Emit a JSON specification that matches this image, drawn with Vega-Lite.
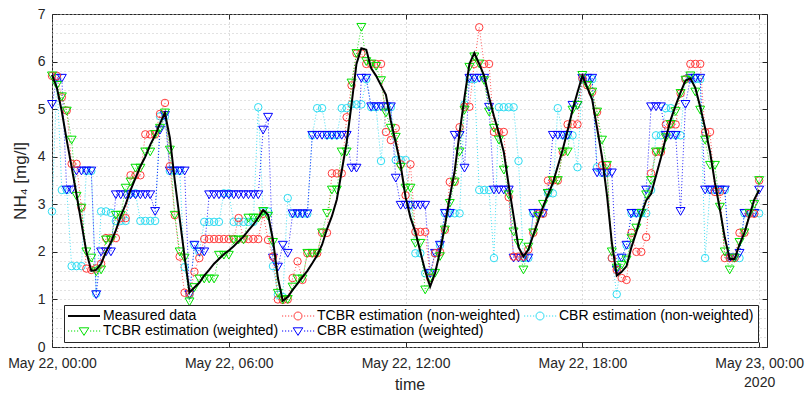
{
  "$schema": "https://vega.github.io/schema/vega-lite/v6.json",
  "width": 715,
  "height": 333,
  "autosize": {"type": "none"},
  "padding": {"left": 52, "top": 14, "right": 40, "bottom": 46},
  "background": "white",
  "config": {
    "font": "Liberation Sans",
    "view": {"stroke": "#262626", "strokeWidth": 1},
    "axis": {"labelFont": "Liberation Sans", "titleFont": "Liberation Sans", "labelColor": "#262626", "titleColor": "#262626", "tickColor": "#262626", "domainColor": "#262626"},
    "legend": {
      "orient": "none", "legendX": 12, "legendY": 291, "columns": 3, "columnPadding": 1, "rowPadding": 1, "padding": 4,
      "strokeColor": "#262626", "fillColor": "white", "labelFont": "Liberation Sans", "labelFontSize": 14, "labelColor": "black",
      "labelLimit": 0, "symbolSize": 64, "labelOffset": 21, "symbolStrokeWidth": 1, "symbolLimit": 0
    }
  },
  "resolve": {"axis": {"x": "independent", "y": "independent"}},
  "data": {"values": [
    {"t":"2020-05-22T00:00","m":5.72,"a":5.70,"b":5.70,"c":2.85,"d":5.10},
    {"t":"2020-05-22T00:10","m":5.45,"a":5.70,"b":5.50,"c":5.65,"d":5.65},
    {"t":"2020-05-22T00:20","m":4.95,"a":5.25,"b":5.26,"c":3.30,"d":5.65},
    {"t":"2020-05-22T00:30","m":4.35,"a":4.97,"b":4.96,"c":3.30,"d":3.30},
    {"t":"2020-05-22T00:40","m":3.78,"a":3.85,"b":4.35,"c":1.70,"d":3.30},
    {"t":"2020-05-22T00:50","m":3.20,"a":3.85,"b":3.17,"c":1.70,"d":3.70},
    {"t":"2020-05-22T01:00","m":2.60,"a":2.93,"b":2.92,"c":1.70,"d":3.70},
    {"t":"2020-05-22T01:10","m":2.00,"a":1.65,"b":2.00,"c":3.70,"d":3.70},
    {"t":"2020-05-22T01:20","m":1.60,"a":1.62,"b":1.87,"c":3.70,"d":3.70},
    {"t":"2020-05-22T01:30","m":1.62,"a":1.65,"b":1.58,"c":1.12,"d":1.10},
    {"t":"2020-05-22T01:40","m":1.75,"a":1.75,"b":1.62,"c":2.85,"d":2.00},
    {"t":"2020-05-22T01:50","m":2.00,"a":2.29,"b":2.25,"c":2.85,"d":2.00},
    {"t":"2020-05-22T02:00","m":2.20,"a":2.29,"b":2.25,"c":2.82,"d":2.00},
    {"t":"2020-05-22T02:10","m":2.45,"a":2.29,"b":2.77,"c":2.65,"d":3.20},
    {"t":"2020-05-22T02:20","m":2.75,"a":2.71,"b":2.77,"c":2.65,"d":3.20},
    {"t":"2020-05-22T02:30","m":3.00,"a":2.71,"b":3.34,"c":2.65,"d":3.20},
    {"t":"2020-05-22T02:40","m":3.30,"a":3.61,"b":3.47,"c":3.23,"d":3.20},
    {"t":"2020-05-22T02:50","m":3.55,"a":3.61,"b":3.76,"c":3.23,"d":3.20},
    {"t":"2020-05-22T03:00","m":3.80,"a":3.61,"b":3.76,"c":2.65,"d":3.20},
    {"t":"2020-05-22T03:10","m":4.00,"a":4.47,"b":4.10,"c":2.65,"d":3.20},
    {"t":"2020-05-22T03:20","m":4.25,"a":4.47,"b":4.10,"c":2.65,"d":3.20},
    {"t":"2020-05-22T03:30","m":4.45,"a":4.47,"b":4.47,"c":2.65,"d":2.85},
    {"t":"2020-05-22T03:40","m":4.70,"a":4.90,"b":4.60,"c":4.85,"d":4.56},
    {"t":"2020-05-22T03:50","m":4.92,"a":5.13,"b":4.92,"c":4.85,"d":4.87},
    {"t":"2020-05-22T04:00","m":4.40,"a":3.80,"b":4.14,"c":3.70,"d":3.70},
    {"t":"2020-05-22T04:10","m":3.50,"a":2.77,"b":2.77,"c":3.70,"d":3.70},
    {"t":"2020-05-22T04:20","m":2.70,"a":1.90,"b":2.00,"c":3.70,"d":3.70},
    {"t":"2020-05-22T04:30","m":1.90,"a":1.14,"b":1.87,"c":1.68,"d":3.70},
    {"t":"2020-05-22T04:40","m":1.15,"a":1.12,"b":0.95,"c":1.10,"d":1.10},
    {"t":"2020-05-22T04:50","m":1.25,"a":1.58,"b":1.25,"c":2.14,"d":2.14},
    {"t":"2020-05-22T05:00","m":1.35,"a":1.87,"b":1.43,"c":2.00,"d":2.00},
    {"t":"2020-05-22T05:10","m":1.50,"a":2.27,"b":1.43,"c":2.63,"d":2.00},
    {"t":"2020-05-22T05:20","m":1.62,"a":2.27,"b":1.43,"c":2.63,"d":3.20},
    {"t":"2020-05-22T05:30","m":1.75,"a":2.27,"b":1.43,"c":2.63,"d":3.20},
    {"t":"2020-05-22T05:40","m":1.85,"a":2.27,"b":1.93,"c":2.63,"d":3.20},
    {"t":"2020-05-22T05:50","m":1.95,"a":2.27,"b":1.93,"c":3.23,"d":3.20},
    {"t":"2020-05-22T06:00","m":2.03,"a":2.27,"b":1.93,"c":3.23,"d":3.20},
    {"t":"2020-05-22T06:10","m":2.12,"a":2.27,"b":2.25,"c":2.63,"d":3.20},
    {"t":"2020-05-22T06:20","m":2.22,"a":2.71,"b":2.25,"c":2.63,"d":3.20},
    {"t":"2020-05-22T06:30","m":2.32,"a":2.27,"b":2.25,"c":2.63,"d":3.20},
    {"t":"2020-05-22T06:40","m":2.45,"a":2.27,"b":2.71,"c":2.63,"d":3.20},
    {"t":"2020-05-22T06:50","m":2.57,"a":2.27,"b":2.71,"c":2.63,"d":3.20},
    {"t":"2020-05-22T07:00","m":2.72,"a":2.27,"b":2.71,"c":5.04,"d":3.20},
    {"t":"2020-05-22T07:10","m":2.88,"a":2.80,"b":2.85,"c":2.85,"d":4.56},
    {"t":"2020-05-22T07:20","m":2.78,"a":2.25,"b":2.75,"c":2.85,"d":4.83},
    {"t":"2020-05-22T07:30","m":2.25,"a":1.90,"b":2.20,"c":1.70,"d":1.87},
    {"t":"2020-05-22T07:40","m":1.45,"a":1.00,"b":1.13,"c":1.10,"d":1.68},
    {"t":"2020-05-22T07:50","m":0.97,"a":0.99,"b":0.99,"c":1.05,"d":2.14},
    {"t":"2020-05-22T08:00","m":1.05,"a":1.00,"b":1.00,"c":3.13,"d":1.97},
    {"t":"2020-05-22T08:10","m":1.20,"a":1.45,"b":1.26,"c":2.80,"d":2.80},
    {"t":"2020-05-22T08:20","m":1.33,"a":1.80,"b":1.43,"c":2.80,"d":2.80},
    {"t":"2020-05-22T08:30","m":1.47,"a":1.41,"b":1.43,"c":2.80,"d":2.80},
    {"t":"2020-05-22T08:40","m":1.60,"a":1.97,"b":1.97,"c":2.80,"d":2.80},
    {"t":"2020-05-22T08:50","m":1.76,"a":1.97,"b":1.97,"c":4.45,"d":4.45},
    {"t":"2020-05-22T09:00","m":1.93,"a":1.97,"b":1.97,"c":5.02,"d":4.45},
    {"t":"2020-05-22T09:10","m":2.15,"a":2.40,"b":2.40,"c":5.02,"d":4.45},
    {"t":"2020-05-22T09:20","m":2.48,"a":2.40,"b":2.81,"c":4.45,"d":4.45},
    {"t":"2020-05-22T09:30","m":2.75,"a":3.65,"b":3.30,"c":4.45,"d":4.45},
    {"t":"2020-05-22T09:40","m":3.10,"a":3.65,"b":3.30,"c":4.45,"d":4.45},
    {"t":"2020-05-22T09:50","m":3.70,"a":3.65,"b":4.10,"c":5.02,"d":4.45},
    {"t":"2020-05-22T10:00","m":4.30,"a":4.83,"b":4.10,"c":5.02,"d":4.45},
    {"t":"2020-05-22T10:10","m":5.10,"a":5.50,"b":5.55,"c":5.10,"d":3.76},
    {"t":"2020-05-22T10:20","m":5.95,"a":6.17,"b":6.17,"c":5.10,"d":3.76},
    {"t":"2020-05-22T10:30","m":6.28,"a":6.17,"b":6.72,"c":5.10,"d":5.65},
    {"t":"2020-05-22T10:40","m":6.25,"a":5.95,"b":6.00,"c":5.63,"d":5.65},
    {"t":"2020-05-22T10:50","m":5.86,"a":5.95,"b":5.95,"c":5.04,"d":5.05},
    {"t":"2020-05-22T11:00","m":5.70,"a":5.95,"b":5.90,"c":5.04,"d":5.05},
    {"t":"2020-05-22T11:10","m":5.50,"a":5.95,"b":5.60,"c":3.91,"d":5.05},
    {"t":"2020-05-22T11:20","m":5.30,"a":4.52,"b":4.92,"c":5.04,"d":5.05},
    {"t":"2020-05-22T11:30","m":4.75,"a":4.35,"b":4.60,"c":5.04,"d":5.05},
    {"t":"2020-05-22T11:40","m":4.30,"a":4.60,"b":4.41,"c":3.93,"d":3.55},
    {"t":"2020-05-22T11:50","m":3.82,"a":3.84,"b":3.78,"c":3.93,"d":2.98},
    {"t":"2020-05-22T12:00","m":3.15,"a":3.19,"b":3.34,"c":3.93,"d":2.98},
    {"t":"2020-05-22T12:10","m":2.72,"a":3.84,"b":3.34,"c":2.98,"d":2.98},
    {"t":"2020-05-22T12:20","m":2.42,"a":2.42,"b":2.18,"c":1.97,"d":2.98},
    {"t":"2020-05-22T12:30","m":2.00,"a":2.42,"b":2.18,"c":1.97,"d":2.98},
    {"t":"2020-05-22T12:40","m":1.60,"a":2.42,"b":1.20,"c":1.55,"d":2.98},
    {"t":"2020-05-22T12:50","m":1.27,"a":1.45,"b":1.45,"c":1.55,"d":1.55},
    {"t":"2020-05-22T13:00","m":1.55,"a":1.97,"b":1.55,"c":1.97,"d":1.97},
    {"t":"2020-05-22T13:10","m":2.00,"a":2.00,"b":1.90,"c":2.14,"d":2.14},
    {"t":"2020-05-22T13:20","m":2.55,"a":2.46,"b":2.46,"c":2.81,"d":2.81},
    {"t":"2020-05-22T13:30","m":3.15,"a":3.47,"b":3.02,"c":2.81,"d":2.81},
    {"t":"2020-05-22T13:40","m":3.70,"a":3.47,"b":3.47,"c":2.81,"d":4.45},
    {"t":"2020-05-22T13:50","m":4.50,"a":4.62,"b":4.10,"c":2.81,"d":4.45},
    {"t":"2020-05-22T14:00","m":5.25,"a":5.05,"b":4.98,"c":5.10,"d":3.76},
    {"t":"2020-05-22T14:10","m":5.95,"a":5.05,"b":5.88,"c":5.63,"d":5.65},
    {"t":"2020-05-22T14:20","m":6.18,"a":5.95,"b":6.10,"c":5.63,"d":5.65},
    {"t":"2020-05-22T14:30","m":5.95,"a":6.72,"b":5.95,"c":3.30,"d":5.65},
    {"t":"2020-05-22T14:40","m":5.70,"a":5.95,"b":5.60,"c":3.30,"d":5.65},
    {"t":"2020-05-22T14:50","m":5.25,"a":5.95,"b":4.94,"c":3.30,"d":5.04},
    {"t":"2020-05-22T15:00","m":4.85,"a":4.52,"b":4.60,"c":1.87,"d":3.30},
    {"t":"2020-05-22T15:10","m":4.50,"a":4.52,"b":4.35,"c":5.04,"d":3.30},
    {"t":"2020-05-22T15:20","m":4.10,"a":4.52,"b":3.72,"c":5.04,"d":3.30},
    {"t":"2020-05-22T15:30","m":3.40,"a":3.15,"b":3.20,"c":5.04,"d":3.30},
    {"t":"2020-05-22T15:40","m":2.75,"a":1.90,"b":2.42,"c":5.04,"d":1.87},
    {"t":"2020-05-22T15:50","m":2.10,"a":1.90,"b":2.18,"c":3.91,"d":1.87},
    {"t":"2020-05-22T16:00","m":1.90,"a":1.90,"b":1.62,"c":1.87,"d":1.87},
    {"t":"2020-05-22T16:10","m":2.05,"a":2.05,"b":2.10,"c":1.87,"d":1.87},
    {"t":"2020-05-22T16:20","m":2.35,"a":2.40,"b":2.40,"c":2.81,"d":2.81},
    {"t":"2020-05-22T16:30","m":2.65,"a":2.80,"b":2.75,"c":2.81,"d":2.81},
    {"t":"2020-05-22T16:40","m":2.95,"a":2.80,"b":3.00,"c":2.81,"d":2.81},
    {"t":"2020-05-22T16:50","m":3.20,"a":3.50,"b":3.23,"c":3.23,"d":3.23},
    {"t":"2020-05-22T17:00","m":3.45,"a":3.50,"b":3.50,"c":3.23,"d":4.45},
    {"t":"2020-05-22T17:10","m":3.80,"a":3.50,"b":3.50,"c":5.02,"d":4.45},
    {"t":"2020-05-22T17:20","m":4.15,"a":4.10,"b":4.10,"c":4.45,"d":4.45},
    {"t":"2020-05-22T17:30","m":4.55,"a":4.68,"b":4.10,"c":4.45,"d":4.45},
    {"t":"2020-05-22T17:40","m":4.98,"a":4.68,"b":4.98,"c":4.45,"d":5.08},
    {"t":"2020-05-22T17:50","m":5.35,"a":4.68,"b":5.08,"c":3.78,"d":5.08},
    {"t":"2020-05-22T18:00","m":5.70,"a":5.65,"b":5.71,"c":5.63,"d":5.65},
    {"t":"2020-05-22T18:10","m":5.45,"a":5.50,"b":5.50,"c":5.63,"d":5.65},
    {"t":"2020-05-22T18:20","m":5.20,"a":5.36,"b":5.36,"c":5.63,"d":5.65},
    {"t":"2020-05-22T18:30","m":4.60,"a":4.94,"b":4.94,"c":3.78,"d":3.66},
    {"t":"2020-05-22T18:40","m":4.00,"a":3.82,"b":4.35,"c":3.66,"d":3.66},
    {"t":"2020-05-22T18:50","m":3.20,"a":3.82,"b":3.82,"c":3.66,"d":3.66},
    {"t":"2020-05-22T19:00","m":2.20,"a":1.87,"b":2.00,"c":1.87,"d":3.66},
    {"t":"2020-05-22T19:10","m":1.50,"a":1.62,"b":1.66,"c":1.11,"d":1.62},
    {"t":"2020-05-22T19:20","m":1.58,"a":1.45,"b":1.72,"c":1.87,"d":1.87},
    {"t":"2020-05-22T19:30","m":1.70,"a":1.41,"b":1.83,"c":2.14,"d":2.14},
    {"t":"2020-05-22T19:40","m":2.10,"a":2.40,"b":2.29,"c":2.81,"d":2.81},
    {"t":"2020-05-22T19:50","m":2.42,"a":2.00,"b":2.50,"c":2.81,"d":2.81},
    {"t":"2020-05-22T20:00","m":2.78,"a":2.00,"b":2.81,"c":2.81,"d":2.81},
    {"t":"2020-05-22T20:10","m":3.08,"a":2.31,"b":3.20,"c":2.81,"d":3.30},
    {"t":"2020-05-22T20:20","m":3.22,"a":3.65,"b":3.50,"c":3.30,"d":5.05},
    {"t":"2020-05-22T20:30","m":3.60,"a":4.10,"b":4.10,"c":4.45,"d":5.05},
    {"t":"2020-05-22T20:40","m":3.98,"a":4.10,"b":4.10,"c":4.45,"d":5.05},
    {"t":"2020-05-22T20:50","m":4.40,"a":4.68,"b":4.40,"c":5.02,"d":4.45},
    {"t":"2020-05-22T21:00","m":4.78,"a":4.68,"b":4.68,"c":5.02,"d":4.45},
    {"t":"2020-05-22T21:10","m":5.08,"a":4.68,"b":4.95,"c":4.45,"d":4.45},
    {"t":"2020-05-22T21:20","m":5.35,"a":5.33,"b":5.33,"c":4.45,"d":2.85},
    {"t":"2020-05-22T21:30","m":5.60,"a":5.63,"b":5.61,"c":5.63,"d":5.10},
    {"t":"2020-05-22T21:40","m":5.65,"a":5.95,"b":5.70,"c":5.63,"d":5.65},
    {"t":"2020-05-22T21:50","m":5.45,"a":5.95,"b":5.36,"c":5.63,"d":5.65},
    {"t":"2020-05-22T22:00","m":5.05,"a":5.95,"b":4.98,"c":5.63,"d":5.65},
    {"t":"2020-05-22T22:10","m":4.60,"a":4.52,"b":4.35,"c":1.87,"d":3.30},
    {"t":"2020-05-22T22:20","m":4.10,"a":4.52,"b":3.82,"c":3.30,"d":3.30},
    {"t":"2020-05-22T22:30","m":3.45,"a":3.26,"b":3.82,"c":3.30,"d":3.30},
    {"t":"2020-05-22T22:40","m":2.90,"a":3.26,"b":2.94,"c":3.30,"d":3.30},
    {"t":"2020-05-22T22:50","m":2.30,"a":1.87,"b":2.00,"c":3.30,"d":3.30},
    {"t":"2020-05-22T23:00","m":1.85,"a":1.87,"b":1.62,"c":1.87,"d":1.87},
    {"t":"2020-05-22T23:10","m":1.85,"a":1.87,"b":1.87,"c":1.87,"d":1.87},
    {"t":"2020-05-22T23:20","m":2.15,"a":2.40,"b":2.20,"c":1.87,"d":1.97},
    {"t":"2020-05-22T23:30","m":2.40,"a":2.40,"b":2.40,"c":2.81,"d":2.81},
    {"t":"2020-05-22T23:40","m":2.75,"a":2.80,"b":2.81,"c":2.81,"d":2.81},
    {"t":"2020-05-22T23:50","m":3.10,"a":2.80,"b":3.00,"c":2.81,"d":2.81},
    {"t":"2020-05-23T00:00","m":3.30,"a":3.50,"b":3.50,"c":2.81,"d":3.30}
  ]},
  "encoding": {
    "x": {"field": "t", "type": "temporal", "axis": null,
          "scale": {"domain": [{"year": 2020, "month": 5, "date": 22, "hours": 0}, {"year": 2020, "month": 5, "date": 23, "hours": 0, "minutes": 16}]}}
  },
  "layer": [
    {
      "mark": {"type": "line", "strokeDash": [1, 2], "strokeWidth": 1, "opacity": 0.85},
      "encoding": {
        "x": {"field": "t", "type": "temporal",
              "scale": {"domain": [{"year": 2020, "month": 5, "date": 22, "hours": 0}, {"year": 2020, "month": 5, "date": 23, "hours": 0, "minutes": 16}]},
              "axis": {"orient": "bottom", "values": [{"year": 2020, "month": 5, "date": 22, "hours": 0}, {"year": 2020, "month": 5, "date": 22, "hours": 6}, {"year": 2020, "month": 5, "date": 22, "hours": 12}, {"year": 2020, "month": 5, "date": 22, "hours": 18}, {"year": 2020, "month": 5, "date": 23, "hours": 0}],
                       "grid": true, "gridDash": [1, 3], "gridColor": "#b8b8b8", "labels": false, "ticks": false, "domain": false, "title": null}},
        "y": {"field": "c", "type": "quantitative", "scale": {"domain": [0, 7], "nice": false},
              "axis": {"orient": "left", "values": [0,0.2,0.4,0.6,0.8,1,1.2,1.4,1.6,1.8,2,2.2,2.4,2.6,2.8,3,3.2,3.4,3.6,3.8,4,4.2,4.4,4.6,4.8,5,5.2,5.4,5.6,5.8,6,6.2,6.4,6.6,6.8,7],
                       "grid": true, "gridDash": [1, 3], "gridColor": "#c4c4c4", "labels": false, "ticks": false, "domain": false, "title": null}},
        "color": {"datum": "CBR estimation (non-weighted)", "type": "nominal"}
      }
    },
    {
      "mark": {"type": "point", "shape": "circle", "filled": false, "size": 56, "strokeWidth": 1, "opacity": 1},
      "encoding": {
        "x": {"field": "t", "type": "temporal",
              "scale": {"domain": [{"year": 2020, "month": 5, "date": 22, "hours": 0}, {"year": 2020, "month": 5, "date": 23, "hours": 0, "minutes": 16}]},
              "axis": {"orient": "top", "values": [{"year": 2020, "month": 5, "date": 22, "hours": 0}, {"year": 2020, "month": 5, "date": 22, "hours": 6}, {"year": 2020, "month": 5, "date": 22, "hours": 12}, {"year": 2020, "month": 5, "date": 22, "hours": 18}, {"year": 2020, "month": 5, "date": 23, "hours": 0}],
                       "grid": false, "labels": false, "ticks": true, "tickSize": -5, "domain": false, "title": null}},
        "y": {"field": "c", "type": "quantitative", "scale": {"domain": [0, 7], "nice": false},
              "axis": {"orient": "right", "values": [0,1,2,3,4,5,6,7], "grid": false, "labels": false, "ticks": true, "tickSize": -5, "domain": false, "title": null}},
        "color": {"datum": "CBR estimation (non-weighted)", "type": "nominal"}
      }
    },
    {
      "mark": {"type": "line", "strokeDash": [1, 2], "strokeWidth": 1, "opacity": 0.85},
      "encoding": {
        "y": {"field": "d", "type": "quantitative", "scale": {"domain": [0, 7], "nice": false}, "axis": null},
        "color": {"datum": "CBR estimation (weighted)", "type": "nominal"}
      }
    },
    {
      "mark": {"type": "point", "shape": "triangle-down", "filled": false, "size": 80, "strokeWidth": 1, "opacity": 1},
      "encoding": {
        "y": {"field": "d", "type": "quantitative", "scale": {"domain": [0, 7], "nice": false}, "axis": null},
        "color": {"datum": "CBR estimation (weighted)", "type": "nominal"}
      }
    },
    {
      "mark": {"type": "line", "strokeDash": [1, 2], "strokeWidth": 1, "opacity": 0.85},
      "encoding": {
        "y": {"field": "a", "type": "quantitative", "scale": {"domain": [0, 7], "nice": false}, "axis": null},
        "color": {"datum": "TCBR estimation (non-weighted)", "type": "nominal"}
      }
    },
    {
      "mark": {"type": "point", "shape": "circle", "filled": false, "size": 56, "strokeWidth": 1, "opacity": 1},
      "encoding": {
        "y": {"field": "a", "type": "quantitative", "scale": {"domain": [0, 7], "nice": false}, "axis": null},
        "color": {"datum": "TCBR estimation (non-weighted)", "type": "nominal"}
      }
    },
    {
      "mark": {"type": "line", "strokeDash": [1, 2], "strokeWidth": 1, "opacity": 0.85},
      "encoding": {
        "y": {"field": "b", "type": "quantitative", "scale": {"domain": [0, 7], "nice": false}, "axis": null},
        "color": {"datum": "TCBR estimation (weighted)", "type": "nominal"}
      }
    },
    {
      "mark": {"type": "point", "shape": "triangle-down", "filled": false, "size": 80, "strokeWidth": 1, "opacity": 1},
      "encoding": {
        "y": {"field": "b", "type": "quantitative", "scale": {"domain": [0, 7], "nice": false}, "axis": null},
        "color": {"datum": "TCBR estimation (weighted)", "type": "nominal"}
      }
    },
    {
      "mark": {"type": "line", "strokeWidth": 2},
      "encoding": {
        "x": {"field": "t", "type": "temporal",
              "scale": {"domain": [{"year": 2020, "month": 5, "date": 22, "hours": 0}, {"year": 2020, "month": 5, "date": 23, "hours": 0, "minutes": 16}]},
              "axis": {"orient": "bottom", "values": [{"year": 2020, "month": 5, "date": 22, "hours": 0}, {"year": 2020, "month": 5, "date": 22, "hours": 6}, {"year": 2020, "month": 5, "date": 22, "hours": 12}, {"year": 2020, "month": 5, "date": 22, "hours": 18}, {"year": 2020, "month": 5, "date": 23, "hours": 0}],
                       "grid": false, "ticks": true, "tickSize": -5, "domain": false, "labelFlush": false, "labelOverlap": false, "labelBound": false,
                       "labelFontSize": 14, "labelPadding": 14, "labelLineHeight": 19,
                       "labelExpr": "date(datum.value) == 23 ? ['May 23, 00:00', '2020'] : timeFormat(datum.value, '%b %d, %H:%M')",
                       "title": "time", "titleFontSize": 16, "titleFontWeight": "normal", "titleY": 29, "titleBaseline": "top"}},
        "y": {"field": "m", "type": "quantitative", "scale": {"domain": [0, 7], "nice": false},
              "axis": {"orient": "left", "values": [0,1,2,3,4,5,6,7], "grid": false, "ticks": true, "tickSize": -5, "domain": false,
                       "labelFontSize": 14, "labelPadding": 12, "title": "NH₄ [mg/l]", "titleFontSize": 17, "titleFontWeight": "normal", "titlePadding": 8}},
        "color": {"datum": "Measured data", "type": "nominal",
                  "scale": {"domain": ["Measured data", "TCBR estimation (weighted)", "TCBR estimation (non-weighted)", "CBR estimation (weighted)", "CBR estimation (non-weighted)"],
                            "range": ["#000000", "#00e000", "#ff3b3b", "#0000ff", "#2cdcf2"]},
                  "legend": {"title": null,
                             "encode": {"symbols": {"update": {
                               "shape": {"signal": "datum.value === 'Measured data' ? 'M-1.75,-0.12H6.25M-1.75,0.12H6.25' : (datum.value === 'TCBR estimation (non-weighted)' || datum.value === 'CBR estimation (non-weighted)') ? 'M-1.75,0h0.3M-1,0h0.3M-0.25,0h0.3M0.5,0h0.3M3.75,0h0.3M4.5,0h0.3M5.25,0h0.3M6,0h0.3M3.25,0A1,1 0 1,1 1.25,0A1,1 0 1,1 3.25,0' : 'M-1.75,0h0.3M-1,0h0.3M-0.25,0h0.3M0.5,0h0.3M3.75,0h0.3M4.5,0h0.3M5.25,0h0.3M6,0h0.3M1.05,-0.8L3.45,-0.8L2.25,1.1Z'"},
                               "stroke": {"scale": "color", "field": "value"},
                               "fill": {"value": "transparent"},
                               "strokeWidth": {"value": 1},
                               "opacity": {"value": 1}
                             }}}}}
      }
    }
  ]
}
